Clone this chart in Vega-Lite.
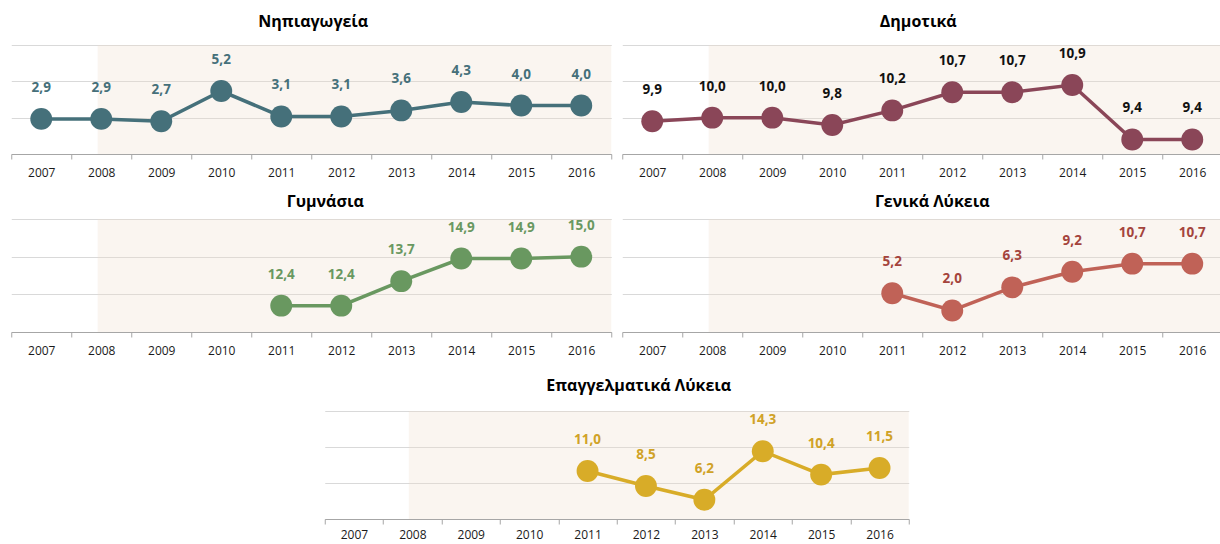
{
  "$schema": "https://vega.github.io/schema/vega-lite/v6.json",
  "padding": {"left": 10, "top": 14, "right": 0, "bottom": 0},
  "config": {
    "font": "Open Sans",
    "view": {"stroke": null},
    "locale": {"number": {"decimal": ",", "thousands": ".", "grouping": [3], "currency": ["", " €"]}},
    "title": {"fontSize": 16, "fontWeight": "bold", "color": "#000000", "offset": 15, "font": "Open Sans"},
    "axisX": {"title": null, "tickBand": "extent", "labelAngle": 0, "domainColor": "#A6A6A6", "tickColor": "#A6A6A6", "tickSize": 5, "labelFontSize": 12, "labelColor": "#1A1A1A", "labelPadding": 8, "grid": false},
    "axisY": {"labels": false, "ticks": false, "domain": false, "title": null, "grid": true, "gridColor": "#D9D9D9", "gridWidth": 1}
  },
  "datasets": {
    "rates": [
      {"category": "Νηπιαγωγεία", "year": 2007, "value": 2.9},
      {"category": "Νηπιαγωγεία", "year": 2008, "value": 2.9},
      {"category": "Νηπιαγωγεία", "year": 2009, "value": 2.7},
      {"category": "Νηπιαγωγεία", "year": 2010, "value": 5.2},
      {"category": "Νηπιαγωγεία", "year": 2011, "value": 3.1},
      {"category": "Νηπιαγωγεία", "year": 2012, "value": 3.1},
      {"category": "Νηπιαγωγεία", "year": 2013, "value": 3.6},
      {"category": "Νηπιαγωγεία", "year": 2014, "value": 4.3},
      {"category": "Νηπιαγωγεία", "year": 2015, "value": 4.0},
      {"category": "Νηπιαγωγεία", "year": 2016, "value": 4.0},
      {"category": "Δημοτικά", "year": 2007, "value": 9.9},
      {"category": "Δημοτικά", "year": 2008, "value": 10.0},
      {"category": "Δημοτικά", "year": 2009, "value": 10.0},
      {"category": "Δημοτικά", "year": 2010, "value": 9.8},
      {"category": "Δημοτικά", "year": 2011, "value": 10.2},
      {"category": "Δημοτικά", "year": 2012, "value": 10.7},
      {"category": "Δημοτικά", "year": 2013, "value": 10.7},
      {"category": "Δημοτικά", "year": 2014, "value": 10.9},
      {"category": "Δημοτικά", "year": 2015, "value": 9.4},
      {"category": "Δημοτικά", "year": 2016, "value": 9.4},
      {"category": "Γυμνάσια", "year": 2011, "value": 12.4},
      {"category": "Γυμνάσια", "year": 2012, "value": 12.4},
      {"category": "Γυμνάσια", "year": 2013, "value": 13.7},
      {"category": "Γυμνάσια", "year": 2014, "value": 14.9},
      {"category": "Γυμνάσια", "year": 2015, "value": 14.9},
      {"category": "Γυμνάσια", "year": 2016, "value": 15.0},
      {"category": "Γενικά Λύκεια", "year": 2011, "value": 5.2},
      {"category": "Γενικά Λύκεια", "year": 2012, "value": 2.0},
      {"category": "Γενικά Λύκεια", "year": 2013, "value": 6.3},
      {"category": "Γενικά Λύκεια", "year": 2014, "value": 9.2},
      {"category": "Γενικά Λύκεια", "year": 2015, "value": 10.7},
      {"category": "Γενικά Λύκεια", "year": 2016, "value": 10.7},
      {"category": "Επαγγελματικά Λύκεια", "year": 2011, "value": 11.0},
      {"category": "Επαγγελματικά Λύκεια", "year": 2012, "value": 8.5},
      {"category": "Επαγγελματικά Λύκεια", "year": 2013, "value": 6.2},
      {"category": "Επαγγελματικά Λύκεια", "year": 2014, "value": 14.3},
      {"category": "Επαγγελματικά Λύκεια", "year": 2015, "value": 10.4},
      {"category": "Επαγγελματικά Λύκεια", "year": 2016, "value": 11.5}
    ],
    "shade": [{"start": 1.44, "end": 10}]
  },
  "vconcat": [
    {
      "vconcat": [
        {
          "hconcat": [
            {
              "title": {"text": "Νηπιαγωγεία", "dx": 2},
              "width": 600, "height": 109,
              "layer": [
                {"data": {"name": "shade"}, "mark": {"type": "rect", "fill": "#EEDDCC", "opacity": 0.3},
                 "encoding": {"x": {"field": "start", "type": "quantitative", "scale": {"domain": [0, 10]}, "axis": null}, "x2": {"field": "end"}}},
                {"data": {"name": "rates"}, "transform": [{"filter": "datum.category == 'Νηπιαγωγεία'"}],
                 "encoding": {
                   "x": {"field": "year", "type": "ordinal", "bandPosition": 0.5, "scale": {"type": "band", "domain": [2007,2008,2009,2010,2011,2012,2013,2014,2015,2016], "paddingInner": 0, "paddingOuter": 0}},
                   "y": {"field": "value", "type": "quantitative", "scale": {"domain": [0, 9], "nice": false, "zero": false}, "axis": {"values": [0, 3, 6, 9]}}
                 },
                 "layer": [
                   {"mark": {"type": "line", "color": "#45707A", "strokeWidth": 3.5}},
                   {"mark": {"type": "circle", "color": "#45707A", "size": 480, "opacity": 1}},
                   {"mark": {"type": "text", "color": "#45707A", "fontWeight": "bold", "fontSize": 13.5, "dy": -31, "baseline": "middle"}, "encoding": {"text": {"field": "value", "type": "quantitative", "format": ".1f"}}}
                 ]}
              ],
              "resolve": {"scale": {"x": "independent"}}
            },
            {
              "title": {"text": "Δημοτικά", "dx": -4},
              "width": 600, "height": 109,
              "layer": [
                {"data": {"name": "shade"}, "mark": {"type": "rect", "fill": "#EEDDCC", "opacity": 0.3},
                 "encoding": {"x": {"field": "start", "type": "quantitative", "scale": {"domain": [0, 10]}, "axis": null}, "x2": {"field": "end"}}},
                {"data": {"name": "rates"}, "transform": [{"filter": "datum.category == 'Δημοτικά'"}],
                 "encoding": {
                   "x": {"field": "year", "type": "ordinal", "bandPosition": 0.5, "scale": {"type": "band", "domain": [2007,2008,2009,2010,2011,2012,2013,2014,2015,2016], "paddingInner": 0, "paddingOuter": 0}},
                   "y": {"field": "value", "type": "quantitative", "scale": {"domain": [9, 12], "nice": false, "zero": false}, "axis": {"values": [9, 10, 11, 12]}}
                 },
                 "layer": [
                   {"mark": {"type": "line", "color": "#8A4658", "strokeWidth": 3.5}},
                   {"mark": {"type": "circle", "color": "#8A4658", "size": 480, "opacity": 1}},
                   {"mark": {"type": "text", "color": "#111111", "fontWeight": "bold", "fontSize": 13.5, "dy": -31, "baseline": "middle"}, "encoding": {"text": {"field": "value", "type": "quantitative", "format": ".1f"}}}
                 ]}
              ],
              "resolve": {"scale": {"x": "independent"}}
            }
          ],
          "spacing": 9
        },
        {
          "hconcat": [
            {
              "title": {"text": "Γυμνάσια", "dx": 14, "offset": 9},
              "width": 600, "height": 113,
              "layer": [
                {"data": {"name": "shade"}, "mark": {"type": "rect", "fill": "#EEDDCC", "opacity": 0.3},
                 "encoding": {"x": {"field": "start", "type": "quantitative", "scale": {"domain": [0, 10]}, "axis": null}, "x2": {"field": "end"}}},
                {"data": {"name": "rates"}, "transform": [{"filter": "datum.category == 'Γυμνάσια'"}],
                 "encoding": {
                   "x": {"field": "year", "type": "ordinal", "bandPosition": 0.5, "scale": {"type": "band", "domain": [2007,2008,2009,2010,2011,2012,2013,2014,2015,2016], "paddingInner": 0, "paddingOuter": 0}},
                   "y": {"field": "value", "type": "quantitative", "scale": {"domain": [11, 17], "nice": false, "zero": false}, "axis": {"values": [11, 13, 15, 17]}}
                 },
                 "layer": [
                   {"mark": {"type": "line", "color": "#699860", "strokeWidth": 3.5}},
                   {"mark": {"type": "circle", "color": "#699860", "size": 480, "opacity": 1}},
                   {"mark": {"type": "text", "color": "#699860", "fontWeight": "bold", "fontSize": 13.5, "dy": -31, "baseline": "middle"}, "encoding": {"text": {"field": "value", "type": "quantitative", "format": ".1f"}}}
                 ]}
              ],
              "resolve": {"scale": {"x": "independent"}}
            },
            {
              "title": {"text": "Γενικά Λύκεια", "dx": 10, "offset": 9},
              "width": 600, "height": 113,
              "layer": [
                {"data": {"name": "shade"}, "mark": {"type": "rect", "fill": "#EEDDCC", "opacity": 0.3},
                 "encoding": {"x": {"field": "start", "type": "quantitative", "scale": {"domain": [0, 10]}, "axis": null}, "x2": {"field": "end"}}},
                {"data": {"name": "rates"}, "transform": [{"filter": "datum.category == 'Γενικά Λύκεια'"}],
                 "encoding": {
                   "x": {"field": "year", "type": "ordinal", "bandPosition": 0.5, "scale": {"type": "band", "domain": [2007,2008,2009,2010,2011,2012,2013,2014,2015,2016], "paddingInner": 0, "paddingOuter": 0}},
                   "y": {"field": "value", "type": "quantitative", "scale": {"domain": [-2, 19], "nice": false, "zero": false}, "axis": {"values": [-2, 5, 12, 19]}}
                 },
                 "layer": [
                   {"mark": {"type": "line", "color": "#C06257", "strokeWidth": 3.5}},
                   {"mark": {"type": "circle", "color": "#C06257", "size": 480, "opacity": 1}},
                   {"mark": {"type": "text", "color": "#A4443C", "fontWeight": "bold", "fontSize": 13.5, "dy": -31, "baseline": "middle"}, "encoding": {"text": {"field": "value", "type": "quantitative", "format": ".1f"}}}
                 ]}
              ],
              "resolve": {"scale": {"x": "independent"}}
            }
          ],
          "spacing": 9
        }
      ],
      "spacing": 15
    },
    {
      "title": {"text": "Επαγγελματικά Λύκεια", "dx": 22, "offset": 17},
      "width": 584, "height": 108,
      "layer": [
        {"data": {"name": "shade"}, "mark": {"type": "rect", "fill": "#EEDDCC", "opacity": 0.3},
         "encoding": {"x": {"field": "start", "type": "quantitative", "scale": {"domain": [0, 10]}, "axis": null}, "x2": {"field": "end"}}},
        {"data": {"name": "rates"}, "transform": [{"filter": "datum.category == 'Επαγγελματικά Λύκεια'"}],
         "encoding": {
           "x": {"field": "year", "type": "ordinal", "bandPosition": 0.5, "scale": {"type": "band", "domain": [2007,2008,2009,2010,2011,2012,2013,2014,2015,2016], "paddingInner": 0, "paddingOuter": 0}, "axis": {"labelPadding": 5}},
           "y": {"field": "value", "type": "quantitative", "scale": {"domain": [3, 21], "nice": false, "zero": false}, "axis": {"values": [3, 9, 15, 21]}}
         },
         "layer": [
           {"mark": {"type": "line", "color": "#D8AC28", "strokeWidth": 3.5}},
           {"mark": {"type": "circle", "color": "#D8AC28", "size": 480, "opacity": 1}},
           {"mark": {"type": "text", "color": "#D0A227", "fontWeight": "bold", "fontSize": 13.5, "dy": -31, "baseline": "middle"}, "encoding": {"text": {"field": "value", "type": "quantitative", "format": ".1f"}}}
         ]}
      ],
      "resolve": {"scale": {"x": "independent"}}
    }
  ],
  "spacing": 22,
  "center": true
}
